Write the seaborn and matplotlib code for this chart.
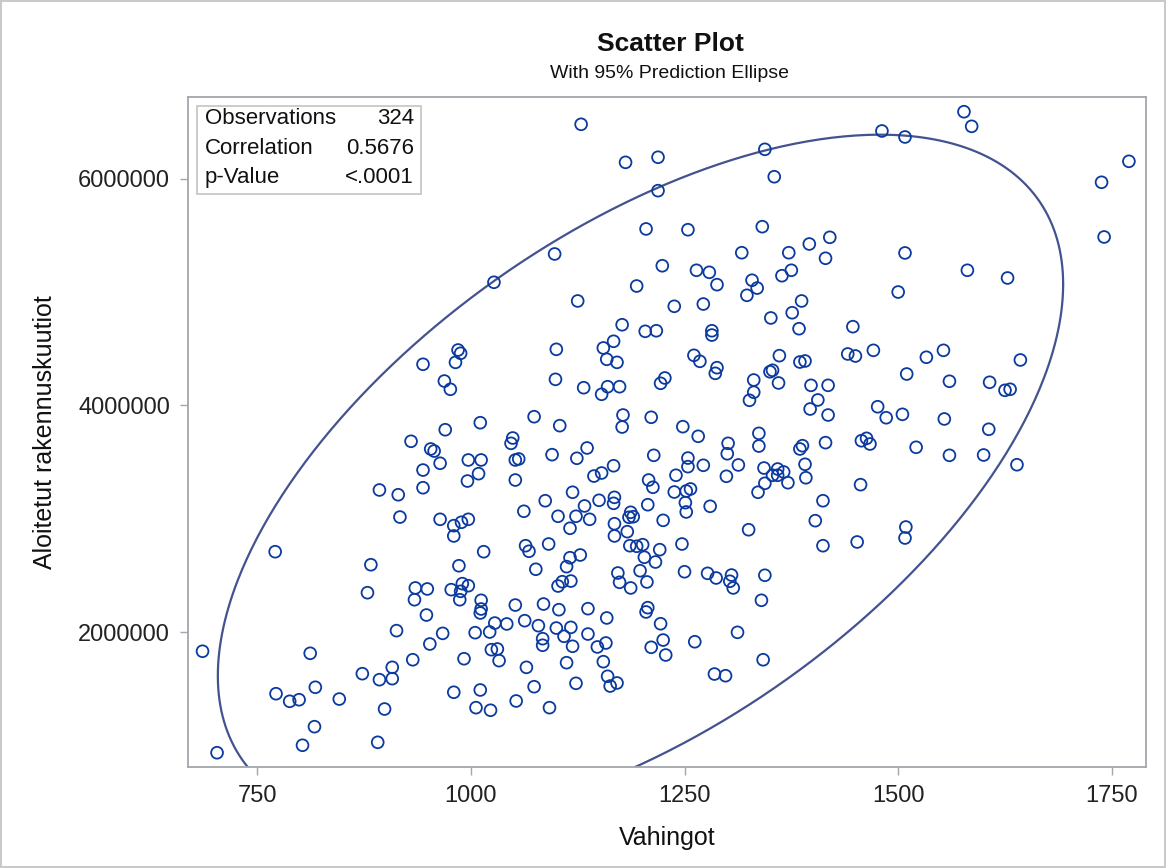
import numpy as np
import matplotlib
matplotlib.use("Agg")
import matplotlib.pyplot as plt
import seaborn as sns
from matplotlib.patches import Rectangle

# Vahingot (x) and Aloitetut rakennuskuutiot (y) for each observation
vahingot = [
    1129, 1181, 1219, 1219, 1205, 1098, 1027, 1224, 1194, 1125,
    1481, 1508, 1344, 1355, 1254, 1341, 1317, 1372, 1396, 1420,
    1415, 1508, 1264, 1279, 1288, 1329, 1335, 1323, 1364, 1375,
    1387, 1376, 1351, 1238, 1272, 1500,
    1577, 1586, 1770, 1738, 1741, 1581, 1628,
    944, 930, 944, 944, 893, 915, 917,
    1177, 1204, 1217, 1100, 985, 988, 982, 1155, 1167, 1159,
    1171, 1099, 969, 976, 1132, 1160, 1174, 1153, 1222, 1227,
    1178, 1177, 1211, 1074, 1104, 1011, 970, 1049, 1047, 953,
    957, 964, 997, 1012, 1009, 996, 1052, 1056, 1052, 1095,
    1124, 1136, 1167, 1153, 1144, 1214, 1208, 1213, 1119, 1087,
    1150, 1168, 1167, 1133, 1207, 1062, 1102, 1123, 1139, 1187,
    1185, 1190, 1225, 964, 980, 989, 997, 1116, 1168, 1183,
    1168, 980,
    1384, 1447, 1282, 1282, 1261, 1268, 1288, 1286, 1361, 1385,
    1391, 1441, 1450, 1471, 1350, 1353, 1360, 1331, 1331, 1326,
    1398, 1418, 1406, 1397, 1418, 1510, 1476, 1486, 1505, 1248,
    1266, 1301, 1300, 1337, 1337, 1385, 1388, 1415, 1457, 1463,
    1467, 1254, 1254, 1272, 1313, 1240, 1299, 1343, 1359, 1366,
    1353, 1359, 1371, 1344, 1336, 1391, 1392, 1238, 1252, 1257,
    1251, 1252, 1280, 1412, 1456, 1403, 1325, 1509, 1508,
    1533, 1553, 1560, 1607, 1625, 1631, 1643, 1554, 1606, 1521,
    1560, 1600, 1639,
    771, 883, 879, 935, 949, 934, 948, 913, 952, 932,
    686, 812, 908, 873, 893, 908, 772, 788, 799, 818,
    846, 899, 817, 803, 891, 703,
    1064, 1068, 1091, 1015, 1186, 1194, 1201, 1221, 986, 1116,
    1128, 1112, 1076, 1203, 1216, 1198, 1172, 1174, 1187, 1206,
    1102, 1107, 1117, 977, 990, 997, 988, 987, 1012, 1012,
    1011, 1052, 1085, 1103, 1137, 1159, 1207, 1205, 1222, 1225,
    1228, 1028, 1042, 1063, 1079, 1100, 1117, 1109, 1137, 967,
    1005, 1022, 1084, 1084, 1119, 1148, 1158, 1024, 1031, 1033,
    992, 1211, 1155, 1112, 1065, 1160, 1171, 1163, 1123, 1074,
    1011, 980, 1053, 1006, 1023, 1092,
    1247, 1412, 1452, 1250, 1277, 1287, 1305, 1303, 1307, 1344,
    1340, 1262, 1312, 1342, 1285, 1298,
]

kuutiot = [
    6483000, 6147000, 6192000, 5897000, 5559000, 5338000, 5088000, 5234000, 5055000, 4923000,
    6424000, 6371000, 6262000, 6020000, 5552000, 5579000, 5349000, 5349000, 5426000, 5485000,
    5300000, 5347000, 5194000, 5176000, 5067000, 5106000, 5037000, 4973000, 5146000, 5194000,
    4923000, 4819000, 4773000, 4876000, 4896000, 5002000,
    6594000, 6465000, 6156000, 5971000, 5488000, 5194000, 5126000,
    4364000, 3684000, 3430000, 3274000, 3254000, 3212000, 3015000,
    4713000, 4655000, 4660000, 4496000, 4490000, 4461000, 4381000, 4508000, 4567000, 4408000,
    4381000, 4231000, 4216000, 4143000, 4157000, 4166000, 4166000, 4099000, 4196000, 4243000,
    3916000, 3810000, 3896000, 3901000, 3822000, 3848000, 3786000, 3713000, 3666000, 3616000,
    3598000, 3490000, 3519000, 3519000, 3398000, 3333000, 3519000, 3528000, 3342000, 3566000,
    3534000, 3625000, 3468000, 3404000, 3377000, 3560000, 3342000, 3278000, 3234000, 3159000,
    3163000, 3189000, 3136000, 3113000, 3124000, 3066000, 3022000, 3022000, 2995000, 3057000,
    3013000, 3018000, 2986000, 2995000, 2939000, 2969000, 2995000, 2916000, 2956000, 2886000,
    2848000, 2848000,
    4678000, 4696000, 4660000, 4622000, 4443000, 4390000, 4334000, 4284000, 4440000, 4384000,
    4393000, 4455000, 4437000, 4487000, 4298000, 4311000, 4199000, 4225000, 4117000, 4046000,
    4178000, 4178000, 4049000, 3969000, 3916000, 4278000, 3989000, 3892000, 3922000, 3813000,
    3728000, 3666000, 3574000, 3754000, 3642000, 3616000, 3645000, 3672000, 3689000, 3710000,
    3660000, 3536000, 3460000, 3472000, 3475000, 3384000, 3375000, 3448000, 3439000, 3413000,
    3384000, 3384000, 3318000, 3313000, 3234000, 3481000, 3362000, 3236000, 3245000, 3263000,
    3142000, 3060000, 3110000, 3159000, 3301000, 2983000, 2903000, 2927000, 2830000,
    4426000, 4487000, 4214000, 4205000, 4134000, 4143000, 4402000, 3881000, 3790000, 3631000,
    3560000, 3563000, 3477000,
    2709000, 2594000, 2347000, 2389000, 2380000, 2285000, 2150000, 2012000, 1894000, 1755000,
    1830000, 1812000, 1688000, 1632000, 1579000, 1588000, 1455000, 1388000, 1402000, 1512000,
    1408000, 1320000, 1164000, 1000000, 1026000, 934000,
    2762000, 2713000, 2777000, 2709000, 2762000, 2757000, 2771000, 2727000, 2585000, 2656000,
    2680000, 2577000, 2554000, 2660000, 2618000, 2541000, 2521000, 2439000, 2389000, 2442000,
    2406000, 2444000, 2450000, 2374000, 2427000, 2409000, 2359000, 2285000, 2280000, 2203000,
    2168000, 2238000, 2247000, 2197000, 2206000, 2124000, 2215000, 2177000, 2073000, 1929000,
    1797000, 2079000, 2071000, 2100000, 2056000, 2035000, 2041000, 1962000, 1982000, 1988000,
    1994000, 2000000, 1941000, 1883000, 1874000, 1868000, 1903000, 1844000, 1850000, 1747000,
    1764000, 1865000, 1738000, 1729000, 1688000, 1609000, 1550000, 1523000, 1547000, 1517000,
    1488000, 1468000, 1391000, 1332000, 1309000, 1332000,
    2777000, 2762000, 2795000, 2532000, 2518000, 2477000, 2503000, 2448000, 2389000, 2501000,
    2280000, 1914000, 1997000, 1755000, 1629000, 1614000,
]

stat_labels = ["Observations", "Correlation", "p-Value"]
stat_values = ["324", "0.5676", "<.0001"]

x_ticks = [750, 1000, 1250, 1500, 1750]
y_ticks = [2000000, 4000000, 6000000]

MARKER_BLUE = "#0b3a9f"
ELLIPSE_BLUE = "#44528f"
FRAME_GRAY = "#a3a6aa"

sns.set_theme(style="white")
plt.rcParams["font.family"] = ["Liberation Sans", "DejaVu Sans"]

W, H = 1166, 868
fig = plt.figure(figsize=(W / 100, H / 100), dpi=100)
fig.patch.set_facecolor("white")
fig.patch.set_edgecolor("#c9c9c9")
fig.patch.set_linewidth(1.5)

ax = fig.add_axes([188 / W, 1 - 767 / H, 958 / W, 670 / H])

sns.scatterplot(x=vahingot, y=kuutiot, ax=ax, marker="o", s=72,
                facecolor="none", edgecolor=MARKER_BLUE, linewidth=1.3,
                zorder=3)

# 95% prediction ellipse from the sample mean and covariance
xv = np.asarray(vahingot, dtype=float)
yv = np.asarray(kuutiot, dtype=float)
n = len(xv)
center = np.array([xv.mean(), yv.mean()])
cov = np.cov(xv, yv)
f_crit = (n - 2) / 2 * (0.05 ** (-2 / (n - 2)) - 1)   # F(0.95; 2, n-2)
scale = np.sqrt(2 * (n + 1) * (n - 1) / (n * (n - 2)) * f_crit)
theta = np.linspace(0, 2 * np.pi, 600)
chol = np.linalg.cholesky(cov)
ring = center[:, None] + scale * chol @ np.vstack([np.cos(theta), np.sin(theta)])
ax.plot(ring[0], ring[1], color=ELLIPSE_BLUE, lw=1.6, zorder=2)

ax.set_xlim(669, 1790)
ax.set_ylim(808000, 6724000)
ax.set_xticks(x_ticks)
ax.set_yticks(y_ticks)
ax.ticklabel_format(style="plain", axis="y", useOffset=False)
ax.tick_params(axis="both", which="major", direction="out", length=6,
               width=1, color=FRAME_GRAY, labelsize=17, labelcolor="#222222",
               pad=7, bottom=True, left=True)
for sp in ax.spines.values():
    sp.set_color(FRAME_GRAY)
    sp.set_linewidth(1.3)

ax.set_xlabel("Vahingot", fontsize=18, color="#111111")
ax.set_ylabel("Aloitetut rakennuskuutiot", fontsize=18, color="#111111")
ax.xaxis.set_label_coords(0.5, (767 - 838) / 670)
ax.xaxis.label.set_va("center")
ax.yaxis.set_label_coords((45 - 188) / 958, 0.5)
ax.yaxis.label.set_va("center")

# statistics inset
ax.add_patch(Rectangle((9 / 958, (767 - 194) / 670), 224 / 958, 88 / 670,
                       transform=ax.transAxes, facecolor="white",
                       edgecolor="#c8c8c8", lw=1.3, zorder=5))
row_y = [119, 149, 178]
for lab, val, py in zip(stat_labels, stat_values, row_y):
    yy = (767 - py) / 670
    ax.text(17 / 958, yy, lab, transform=ax.transAxes, ha="left", va="center",
            fontsize=16, color="#111111", zorder=6)
    ax.text(226 / 958, yy, val, transform=ax.transAxes, ha="right", va="center",
            fontsize=16, color="#111111", zorder=6)

fig.text(670 / W, 1 - 44 / H, "Scatter Plot", ha="center", va="center",
         fontsize=19, fontweight="bold", color="#111111")
fig.text(670 / W, 1 - 73 / H, "With 95% Prediction Ellipse", ha="center",
         va="center", fontsize=14, color="#111111")

fig.savefig("out.png", dpi=100, facecolor=fig.get_facecolor(),
            edgecolor=fig.get_edgecolor())
